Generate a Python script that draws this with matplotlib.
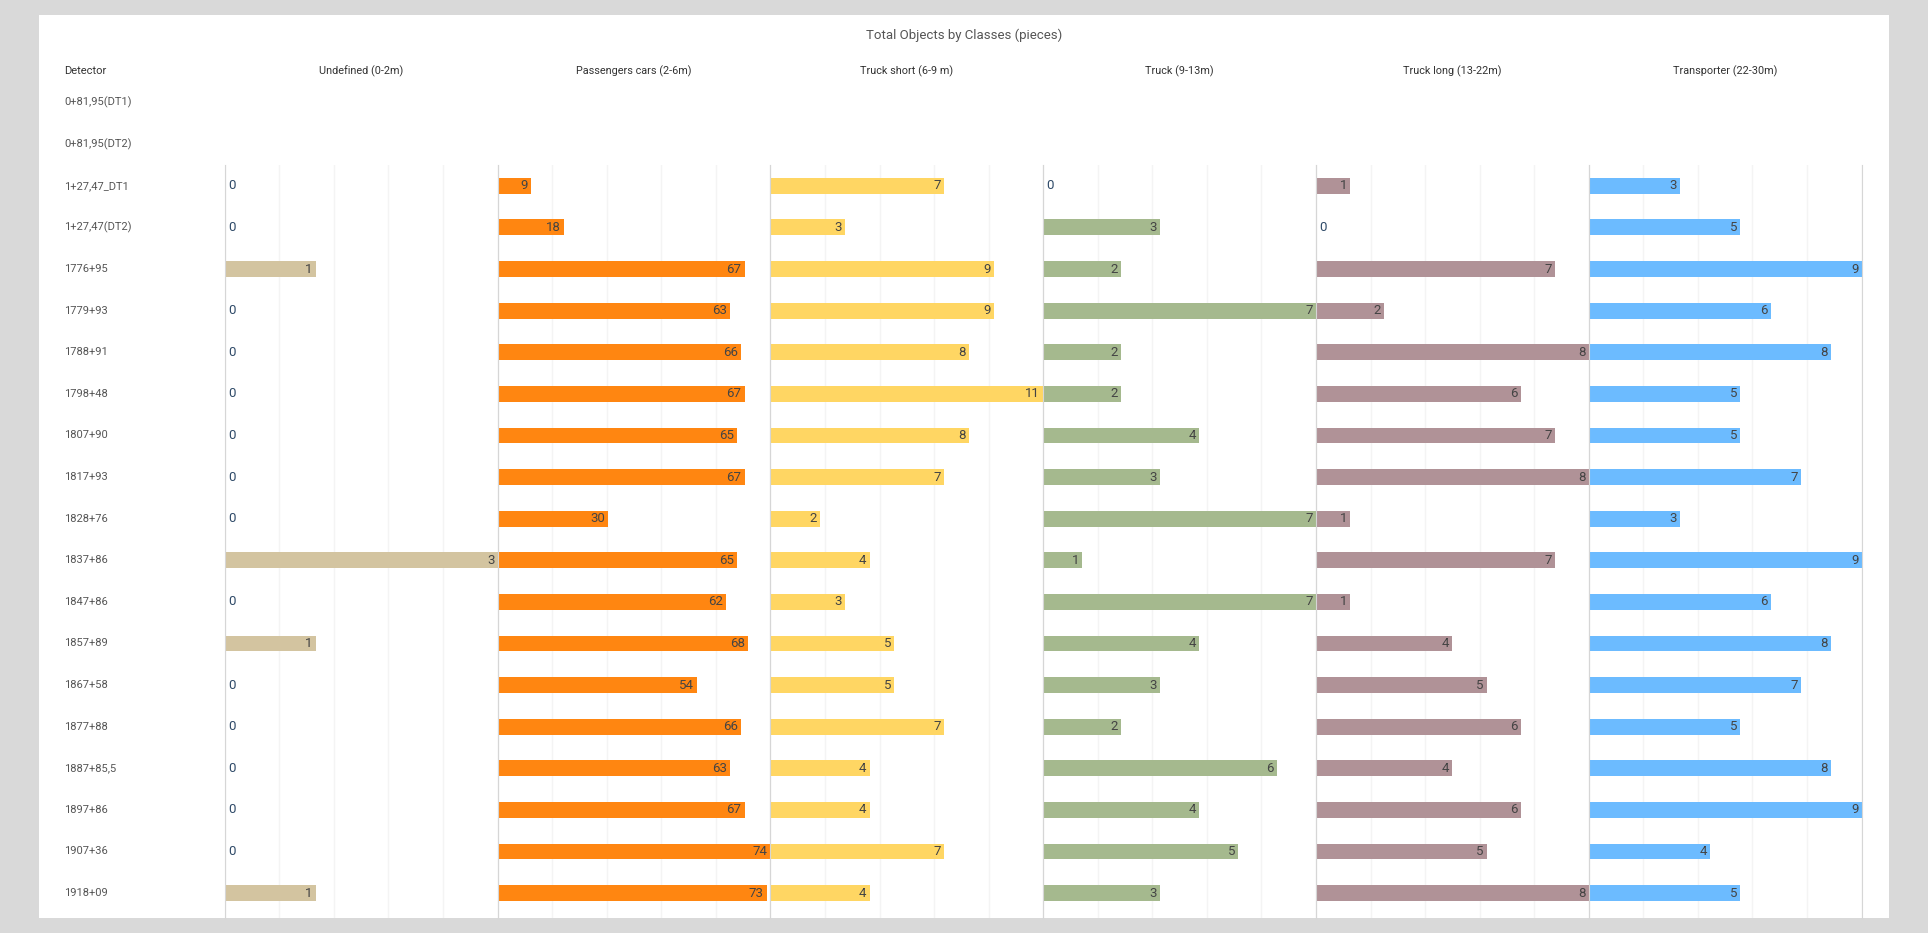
import numpy as np
import matplotlib
matplotlib.use('Agg')
import matplotlib.pyplot as plt
from matplotlib import transforms
from matplotlib.patches import Rectangle

plt.rcParams['font.family'] = ['Roboto', 'DejaVu Sans']

detectors = ['0+81,95(DT1)', '0+81,95(DT2)', '1+27,47_DT1', '1+27,47(DT2)', '1776+95', '1779+93',
             '1788+91', '1798+48', '1807+90', '1817+93', '1828+76', '1837+86', '1847+86',
             '1857+89', '1867+58', '1877+88', '1887+85,5', '1897+86', '1907+36', '1918+09']
# first two detectors have no data
classes = ['Undefined (0-2m)', 'Passengers cars (2-6m)', 'Truck short (6-9 m)',
           'Truck (9-13m)', 'Truck long (13-22m)', 'Transporter (22-30m)']
undefined = [0, 0, 1, 0, 0, 0, 0, 0, 0, 3, 0, 1, 0, 0, 0, 0, 0, 1]
passenger = [9, 18, 67, 63, 66, 67, 65, 67, 30, 65, 62, 68, 54, 66, 63, 67, 74, 73]
truck_short = [7, 3, 9, 9, 8, 11, 8, 7, 2, 4, 3, 5, 5, 7, 4, 4, 7, 4]
truck = [0, 3, 2, 7, 2, 2, 4, 3, 7, 1, 7, 4, 3, 2, 6, 4, 5, 3]
truck_long = [1, 0, 7, 2, 8, 6, 7, 8, 1, 7, 1, 4, 5, 6, 4, 6, 5, 8]
transporter = [3, 5, 9, 6, 8, 5, 5, 7, 3, 9, 6, 8, 7, 5, 8, 9, 4, 5]
colors = ['#d3c4a0', '#ff8611', '#ffd663', '#a5b98e', '#b09297', '#6cbbff']

series = [undefined, passenger, truck_short, truck, truck_long, transporter]

W, H = 1928, 933
fig = plt.figure(figsize=(W / 100, H / 100), dpi=100, facecolor='#d9d9d9')

# white card behind everything
fig.patches.append(Rectangle((39 / W, 1 - 918 / H), (1889 - 39) / W, (918 - 15) / H,
                             transform=fig.transFigure, facecolor='white', edgecolor='none', zorder=-1))

fig.text(964 / W, 1 - 35 / H, 'Total Objects by Classes (pieces)', ha='center', va='center',
         fontsize=9.5, color='#555555')

left0, pw = 224.8, 272.8
top, bottom = 165, 918
n = len(undefined)
rows = np.arange(n)

axes = []
for k, (name, vals, col) in enumerate(zip(classes, series, colors)):
    ax = fig.add_axes([(left0 + k * pw) / W, 1 - bottom / H, pw / W, (bottom - top) / H])
    ax.patch.set_alpha(0)
    vmax = max(vals)
    ax.barh(rows, vals, height=0.38, color=col, zorder=2)
    ax.set_xlim(0, vmax)
    ax.set_ylim(17.6, -0.5)
    ax.set_xticks(np.linspace(0, vmax, 6))
    ax.set_yticks([])
    ax.tick_params(length=0, labelbottom=False)
    ax.grid(axis='x', color='#f4f4f4', lw=1, zorder=0)
    ax.set_axisbelow(True)
    for s in ['top', 'bottom', 'right']:
        ax.spines[s].set_visible(False)
    ax.spines['left'].set_color('#d6d6d6')
    if k == len(classes) - 1:
        ax.spines['right'].set_visible(True)
        ax.spines['right'].set_color('#d6d6d6')
    for i, v in enumerate(vals):
        if v == 0:
            ax.annotate('0', (0, i), xytext=(2.2, 0), textcoords='offset points',
                        ha='left', va='center', fontsize=9.5, color='#2f4a68', zorder=3)
        else:
            ax.annotate(str(v), (v, i), xytext=(-2.2, 0), textcoords='offset points',
                        ha='right', va='center', fontsize=9.5, color='#444444', zorder=3)
    ax.text(0.5, 1 - 71 / H, name, transform=transforms.blended_transform_factory(ax.transAxes, fig.transFigure),
            ha='center', va='center', fontsize=7.8, color='#333333')
    axes.append(ax)

# detector labels, aligned with rows of the first panel (first two rows have no data)
tr = transforms.blended_transform_factory(fig.transFigure, axes[0].transData)
for j, d in enumerate(detectors):
    axes[0].text(64 / W, j - 2, d, transform=tr, ha='left', va='center', fontsize=8,
                 color='#555555', clip_on=False)
fig.text(64 / W, 1 - 71 / H, 'Detector', ha='left', va='center', fontsize=8, color='#333333')

fig.savefig('out.png', dpi=100, facecolor=fig.get_facecolor())
